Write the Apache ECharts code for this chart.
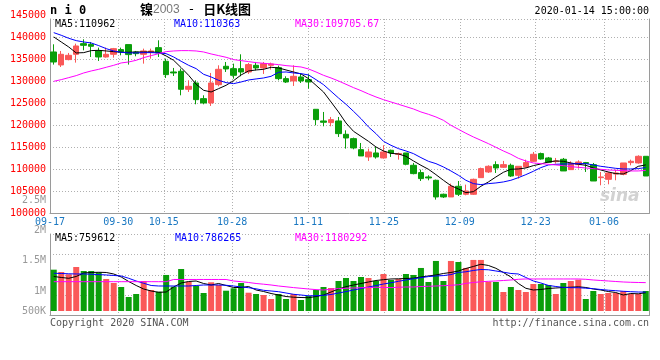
<!DOCTYPE html>
<html><head><meta charset="utf-8">
<script src="https://cdn.jsdelivr.net/npm/echarts@6/dist/echarts.min.js"></script>
<style>html,body{margin:0;padding:0;background:#fff}#c{width:660px;height:360px}</style>
</head><body><div id="c"></div>
<script>
const dates = ['09-17','09-18','09-19','09-20','09-23','09-24','09-25','09-26','09-27','09-30',
'10-08','10-09','10-10','10-11','10-14','10-15','10-16','10-17','10-18','10-21',
'10-22','10-23','10-24','10-25','10-28','10-29','10-30','10-31','11-01','11-04',
'11-05','11-06','11-07','11-08','11-11','11-12','11-13','11-14','11-15','11-18',
'11-19','11-20','11-21','11-22','11-25','11-26','11-27','11-28','11-29','12-02',
'12-03','12-04','12-05','12-06','12-09','12-10','12-11','12-12','12-13','12-16',
'12-17','12-18','12-19','12-20','12-23','12-24','12-25','12-26','12-27','12-30',
'12-31','01-02','01-03','01-06','01-07','01-08','01-09','01-10','01-13','01-14'];
const labelDates = ['09-17','09-30','10-15','10-28','11-11','11-25','12-09','12-23','01-06'];

const opens = [136720,133760,134980,136190,138620,138470,136950,135580,136190,137260,
138400,136720,136190,136650,137710,134600,132160,132320,128210,129650,
126080,125090,129270,133460,132920,132920,132160,133680,133080,133680,
133150,130640,130110,131020,130410,123650,120990,120610,120990,117950,
116960,114450,112780,113690,112550,114300,113390,113690,110880,109210,
108220,107460,104270,103660,106090,104270,104270,108060,109360,111030,
110420,110880,108600,110500,111790,113540,112550,111710,112250,109890,
111030,111490,111030,108060,107680,108900,108820,111490,111410,112930];
const closes = [134440,136190,135960,138090,138240,138020,135580,136190,137480,136800,
136120,136340,136950,136950,136500,131550,131940,128210,128890,125850,
125090,129650,132770,132850,131400,132160,133840,133080,134060,133990,
130640,129880,131170,130110,129880,121290,120690,121290,118100,117110,
114830,113010,113920,112780,113920,113690,113540,111110,108980,107840,
107990,103660,103660,106090,104270,105030,107680,110120,110650,110270,
111030,108440,110650,111490,113390,112320,111560,111870,109590,111260,
111640,111260,107300,108220,109130,109130,111410,111790,112930,108440];
const lows = [133840,133300,134820,134290,137100,135580,134670,135430,135430,135960,
133840,135740,134060,135200,135580,130790,131250,126840,127600,124790,
124790,124410,128890,132160,130640,131170,131710,132540,131710,132700,
130260,129650,128970,129650,128360,120000,119770,119770,117340,114680,
114530,113010,111870,112400,112400,112780,112170,110880,108820,107300,
107460,103050,103430,103660,103880,104040,104110,108060,109130,109130,
110270,108220,107840,110350,111640,112170,111410,111260,109590,109890,
110120,109360,107300,106320,106540,107460,108600,110880,111260,108440];
const highs = [138470,136950,136500,138620,139610,139000,137710,137710,137640,137710,
138400,136950,137480,137480,139380,135200,133080,132920,130260,130260,
126840,131940,133680,134440,134060,136190,134220,134440,134440,134290,
133610,131170,133680,131780,131630,123650,123040,121900,121900,118860,
117190,115970,114680,115060,115440,114450,113770,113690,111410,109890,
108600,107610,104420,106700,107300,106470,107840,110350,110880,111790,
111870,111260,110650,112170,113920,113770,112780,112550,112550,111790,
112020,111640,111410,109360,109360,109890,111410,112170,113160,112930];

const ma5 = [140150,139000,137860,136500,136570,137030,137100,136950,136800,136650,
136650,136720,136720,136720,136650,135810,134820,133150,131400,129350,
127980,127600,128360,129120,130190,131480,132390,132620,132770,133230,
133080,132620,132160,131710,130640,129120,127600,125320,123040,120530,
118630,117490,116350,115060,114150,113610,113460,112930,111870,110880,
109970,108750,107460,106240,105480,104640,104870,106090,107080,108220,
109280,109970,110040,110270,110800,111180,111640,111870,111790,111410,
111110,110880,110270,109810,109360,108980,108900,109660,110650,110962];
const ma10 = [141130,140530,139840,139310,139000,138780,138170,137480,136950,136650,
136500,136500,136570,136570,136500,136340,135580,134600,133680,132920,
131630,131020,130260,129730,129500,129880,130340,130570,130790,131170,
132090,132160,131940,131780,131480,130410,129270,127750,126230,124790,
123190,121520,119620,118100,116350,115440,114680,114150,113540,112630,
111790,111260,110500,109590,108600,107460,106700,106470,106700,106850,
107080,107460,108060,108750,109510,110350,110950,111110,111180,111180,
111260,111260,110950,110650,110420,110190,110040,110040,110120,110363];
const ma30 = [130030,130410,130870,131330,131940,132390,132770,133230,133680,134220,
134440,134820,135430,135890,136340,136800,136950,137030,137030,136950,
136720,136270,135890,135510,134980,134750,134520,134290,134140,133990,
133840,133610,133460,133300,132850,132160,131400,130790,130110,129350,
128590,127910,127150,126460,125850,125320,124790,124260,123720,123040,
122510,121900,121140,120000,119090,118180,117340,116580,115820,114980,
114150,113390,112470,111870,111410,111260,111110,110950,110800,110570,
110420,110270,110120,109970,109810,109740,109660,109590,109590,109705.67];

const volumes = [1718000,1622000,1527000,1830000,1664000,1664000,1610000,1331000,1165000,998000,
582000,707000,1248000,874000,803000,1498000,1011000,1747000,1219000,1040000,
749000,1194000,1082000,844000,944000,1165000,761000,707000,666000,499000,
707000,499000,707000,458000,624000,874000,998000,957000,1248000,1373000,
1248000,1414000,1373000,1248000,1539000,1290000,1331000,1539000,1498000,1789000,
1206000,2080000,1248000,2080000,2038000,1789000,2122000,2122000,1219000,1206000,
790000,998000,874000,790000,1123000,1123000,1082000,707000,1165000,1248000,
1302000,499000,832000,707000,749000,749000,832000,707000,707000,832000];
const volMa5 = [1435200,1393600,1360300,1435200,1580800,1601600,1609900,1601600,1539200,1414400,
1227200,1060800,915200,832000,777900,790400,998400,1164800,1227200,1248000,
1144000,1081600,1144000,1060800,977600,977600,1019200,873600,811200,728000,
665600,603200,574100,561600,553300,603200,665600,790400,915200,1010900,
1081600,1144000,1206400,1268800,1302100,1331200,1339500,1352000,1364500,1414400,
1456000,1497600,1560000,1601600,1664000,1768000,1851200,1942700,1892800,1776300,
1601600,1414400,1144000,944300,873600,894400,936000,956800,977600,990100,
1006700,977600,915200,873600,811200,769600,665600,728000,715500,759612];
const volMa10 = [1568300,1560000,1547500,1539200,1539200,1526700,1514200,1497600,1476800,1456000,
1360300,1248000,1152300,1060800,1040000,1040000,1040000,1040000,1040000,1060800,
1081600,1081600,1081600,1069100,1040000,998400,969300,923500,861100,832000,
802900,748800,694700,665600,632300,636500,653100,686400,748800,807000,
873600,931800,998400,1056600,1123200,1173100,1235500,1289600,1339500,1385300,
1431000,1456000,1472600,1514200,1601600,1630700,1684800,1726400,1713900,1664000,
1614100,1560000,1539200,1393600,1248000,1164800,1065000,1019200,981800,969300,
969300,948500,927700,894400,865300,844500,819500,802900,790400,786265];
const volMa30 = [1218900,1218900,1218900,1218900,1218900,1218900,1218900,1218900,1218900,1218900,
1218900,1218900,1218900,1218900,1218900,1218900,1310400,1310400,1310400,1310400,
1310400,1310400,1310400,1310400,1248000,1218900,1185600,1144000,1114900,1081600,
1040000,1006700,973400,944300,915200,890200,873600,906900,931800,944300,
956800,969300,977600,985900,981800,973400,985900,998400,998400,1019200,
1027500,1040000,1052500,1069100,1089900,1148200,1185600,1214700,1235500,1248000,
1268800,1289600,1318700,1331200,1331200,1331200,1331200,1331200,1331200,1331200,
1331200,1318700,1289600,1268800,1248000,1227200,1206400,1193900,1185600,1180292];

const volTickValues = [667800, 1000000, 1500000, 2000000, 2500000];
const volTickLabels = ['500K', '1M', '1.5M', '2M', '2.5M'];

const RED = '#fa5858', GREEN = '#0a9e0a';
const MONO = 'DejaVu Sans Mono';
const GRIDC = '#b0b0b0', AXC = '#9a9a9a';
const isLabel = (i, v) => labelDates.indexOf(v) >= 0;
const dotted = { show: true, lineStyle: { color: GRIDC, type: [1, 2], width: 1 } };

const chart = echarts.init(document.getElementById('c'), null, { renderer: 'canvas' });
const txt = (text, pos, color, extra) => Object.assign({
  text, padding: 0, itemGap: 0,
  textStyle: Object.assign({ fontFamily: MONO, fontSize: 10, fontWeight: 'normal', color }, extra || {})
}, pos);

chart.setOption({
  animation: false,
  backgroundColor: '#fff',
  title: [
    txt('n i 0', { left: 50, top: 5 }, '#000', { fontWeight: 'bold', fontSize: 12 }),
    {
      text: '{a|镍}{b|2003}{c| - }{a|日K线图}', left: 140, top: 3, padding: 0,
      textStyle: { fontWeight: 'normal', rich: {
        a: { fontFamily: 'Noto Sans CJK SC', fontSize: 13, fontWeight: 'bold', color: '#000' },
        b: { fontFamily: 'Liberation Sans', fontSize: 12, fontWeight: 'normal', color: '#777' },
        c: { fontFamily: MONO, fontSize: 13, fontWeight: 'normal', color: '#000' }
      } }
    },
    txt('2020-01-14 15:00:00', { right: 11, top: 6 }, '#000'),
    txt('MA5:110962', { left: 55, top: 19 }, '#000'),
    txt('MA10:110363', { left: 174, top: 19 }, '#0000ff'),
    txt('MA30:109705.67', { left: 295, top: 19 }, '#ff00ff'),
    txt('MA5:759612', { left: 55, top: 233 }, '#000'),
    txt('MA10:786265', { left: 175, top: 233 }, '#0000ff'),
    txt('MA30:1180292', { left: 295, top: 233 }, '#ff00ff'),
    txt('Copyright 2020 SINA.COM', { left: 50, top: 318 }, '#555'),
    txt('http://finance.sina.com.cn', { right: 11, top: 318 }, '#555'),
    txt('sina', { left: 600, top: 188 }, '#d2d2d2', { fontFamily: 'DejaVu Sans', fontStyle: 'italic', fontWeight: 'bold', fontSize: 17 })
  ],
  grid: [
    { left: 50, right: 10.5, top: 19, bottom: 147 },
    { left: 50, right: 10.5, top: 234, bottom: 44.4 },
    { left: 50, right: 10.5, top: 15.7, bottom: 147 },
    { left: 50, right: 10.5, top: 200.7, bottom: 49 }
  ],
  xAxis: [
    { type: 'category', gridIndex: 0, data: dates, boundaryGap: false, position: 'bottom',
      axisLine: { show: true, lineStyle: { color: AXC } }, axisTick: { show: false },
      axisLabel: { interval: isLabel, color: '#1a78c2', fontFamily: MONO, fontSize: 10, margin: 4 },
      splitLine: Object.assign({ interval: isLabel }, dotted) },
    { type: 'category', gridIndex: 0, data: dates, boundaryGap: true, show: false },
    { type: 'category', gridIndex: 1, data: dates, boundaryGap: false, position: 'top',
      axisLine: { show: true, lineStyle: { color: AXC } }, axisTick: { show: false },
      axisLabel: { show: false },
      splitLine: Object.assign({ interval: isLabel }, dotted) },
    { type: 'category', gridIndex: 1, data: dates, boundaryGap: true, show: false },
    { type: 'value', gridIndex: 2, show: false },
    { type: 'value', gridIndex: 3, show: false }
  ],
  yAxis: [
    { type: 'value', gridIndex: 0, min: 100000, max: 144240, interval: 5000,
      axisLine: { show: true, lineStyle: { color: AXC } }, axisTick: { show: false },
      axisLabel: { show: false }, splitLine: dotted },
    { type: 'value', gridIndex: 0, position: 'right', min: 0, max: 1,
      axisLine: { show: true, lineStyle: { color: AXC } }, axisTick: { show: false },
      axisLabel: { show: false }, splitLine: { show: false } },
    { type: 'value', gridIndex: 2, min: 100000, max: 145000, interval: 5000,
      axisLine: { show: false }, axisTick: { show: false }, splitLine: { show: false },
      axisLabel: { color: '#ff0000', fontFamily: MONO, fontSize: 10, margin: 4, formatter: v => String(v) } },
    { type: 'value', gridIndex: 1, min: 0, max: 4, interval: 1,
      axisLine: { show: true, lineStyle: { color: AXC } }, axisTick: { show: false },
      axisLabel: { show: false },
      splitLine: { show: true, showMinLine: false, lineStyle: { color: GRIDC, type: [1, 2], width: 1 } } },
    { type: 'value', gridIndex: 1, min: -190000, max: 3200000, show: false },
    { type: 'value', gridIndex: 1, position: 'right', min: 0, max: 1,
      axisLine: { show: true, lineStyle: { color: AXC } }, axisTick: { show: false },
      axisLabel: { show: false }, splitLine: { show: false } },
    { type: 'value', gridIndex: 3, min: 667800, max: 2500000,
      axisLine: { show: false }, axisTick: { show: false }, splitLine: { show: false },
      axisLabel: { color: '#999', fontFamily: MONO, fontSize: 10, margin: 4,
        customValues: volTickValues,
        formatter: v => { const i = volTickValues.indexOf(v); return i >= 0 ? volTickLabels[i] : ''; } } }
  ],
  series: [
    { type: 'candlestick', xAxisIndex: 1, yAxisIndex: 0, barWidth: 6,
      data: opens.map((o, i) => [o, closes[i], lows[i], highs[i]]),
      itemStyle: { color: RED, color0: GREEN, borderColor: RED, borderColor0: GREEN, borderWidth: 1 } },
    { type: 'line', xAxisIndex: 1, yAxisIndex: 0, data: ma5, symbol: 'none', lineStyle: { color: '#000', width: 1 }, z: 5 },
    { type: 'line', xAxisIndex: 1, yAxisIndex: 0, data: ma10, symbol: 'none', lineStyle: { color: '#0000ff', width: 1 }, z: 5 },
    { type: 'line', xAxisIndex: 1, yAxisIndex: 0, data: ma30, symbol: 'none', lineStyle: { color: '#ff00ff', width: 1 }, z: 5 },
    { type: 'bar', xAxisIndex: 3, yAxisIndex: 4, barWidth: 6, data: volumes,
      itemStyle: { color: p => closes[p.dataIndex] >= opens[p.dataIndex] ? RED : GREEN } },
    { type: 'line', xAxisIndex: 3, yAxisIndex: 4, data: volMa5, symbol: 'none', lineStyle: { color: '#000', width: 1 }, z: 5 },
    { type: 'line', xAxisIndex: 3, yAxisIndex: 4, data: volMa10, symbol: 'none', lineStyle: { color: '#0000ff', width: 1 }, z: 5 },
    { type: 'line', xAxisIndex: 3, yAxisIndex: 4, data: volMa30, symbol: 'none', lineStyle: { color: '#ff00ff', width: 1 }, z: 5 }
  ]
});
</script>
</body></html>
